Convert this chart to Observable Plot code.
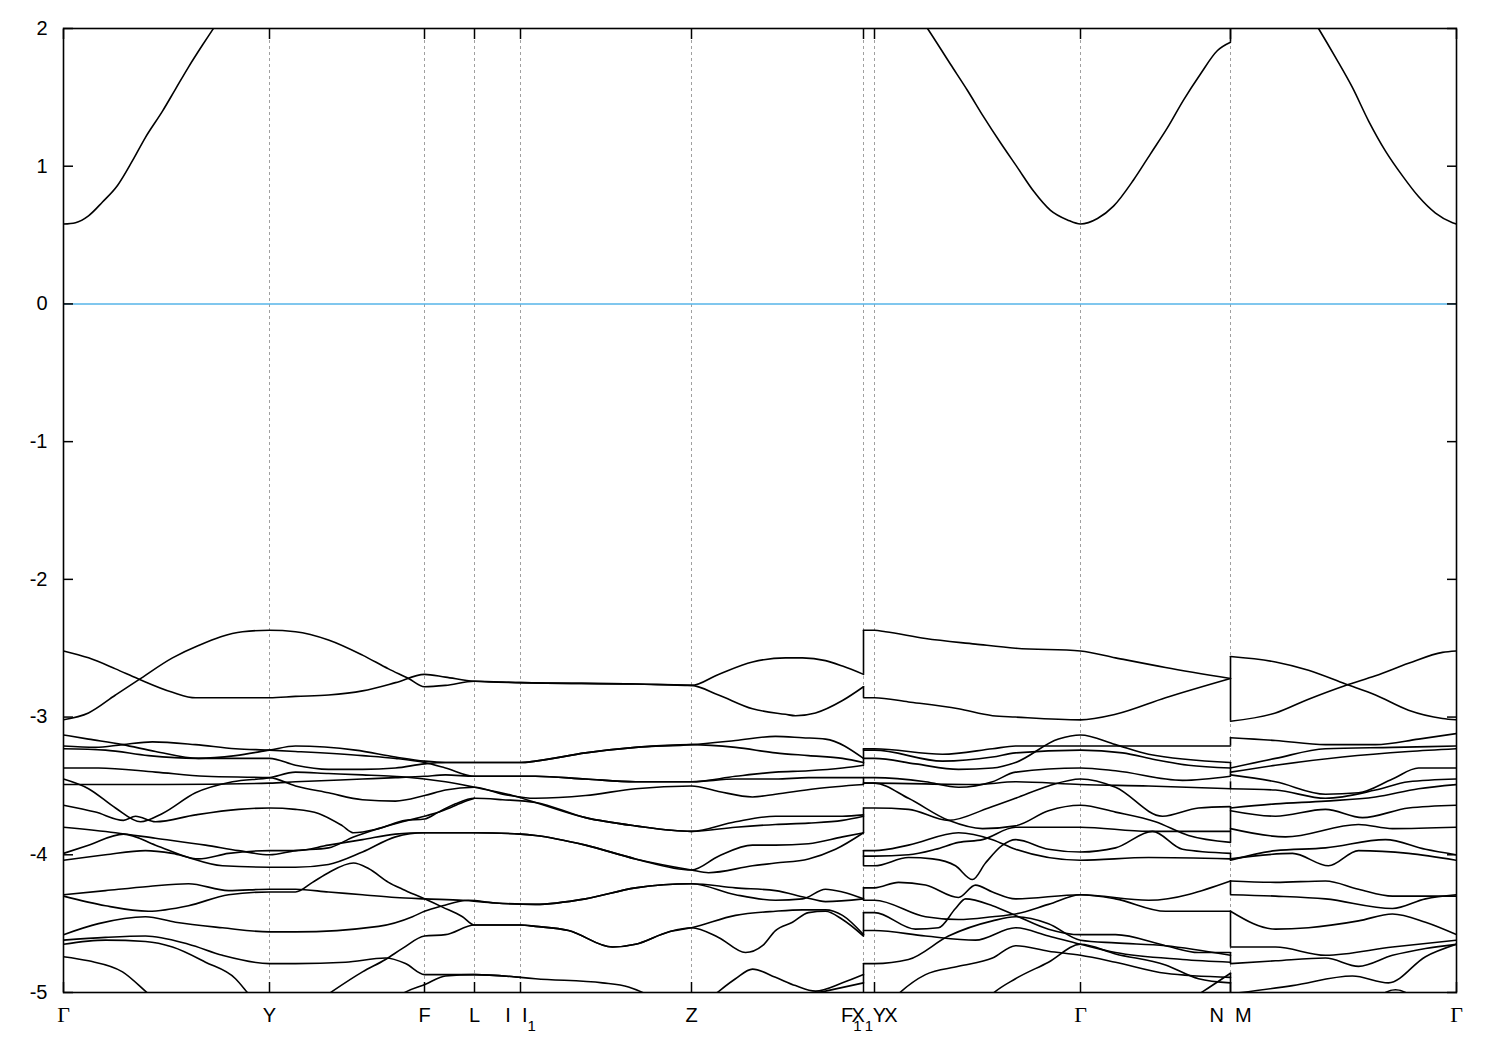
<!DOCTYPE html>
<html><head><meta charset="utf-8">
<script src="https://cdn.jsdelivr.net/npm/d3@7"></script>
<script src="https://cdn.jsdelivr.net/npm/@observablehq/plot@0.6"></script>
<style>body{margin:0;background:#fff;} #chart svg{display:block;}</style>
</head><body><div id="chart"></div>
<script>
// high-symmetry points along the k-path (arbitrary path-length units)
const kTicks  = [0, 2.06, 3.61, 4.11, 4.57, 6.28, 8.00, 8.11, 10.17, 11.67, 13.93];
const kLabels = ["Γ", "Y", "F", "L", "I\u00a0\u00a0I_1", "Z", "F_1\u00a0\u00a0Y", "X_1\u00a0\u00a0X", "Γ", "N\u00a0\u00a0M", "Γ"];
const yTicks  = [-5, -4, -3, -2, -1, 0, 1, 2];

// conduction band pieces [k, E]
const cbGammaY  = [[0,0.58],[0.12,0.59],[0.25,0.64],[0.39,0.74],[0.54,0.86],[0.69,1.04],[0.82,1.21],[0.99,1.40],[1.12,1.56],[1.25,1.72],[1.39,1.88],[1.49,1.99],[1.75,2.28],[2.06,2.50]];
const cbXGammaN = [[8.11,2.45],[8.40,2.25],[8.64,2.00],[8.87,1.74],[9.04,1.55],[9.20,1.36],[9.37,1.17],[9.54,0.99],[9.70,0.82],[9.87,0.68],[10.04,0.61],[10.17,0.58],[10.34,0.62],[10.50,0.71],[10.70,0.90],[10.87,1.09],[11.04,1.28],[11.20,1.48],[11.37,1.67],[11.54,1.84],[11.67,1.90]];
const cbMGamma  = [[11.67,2.85],[12.20,2.40],[12.55,2.00],[12.72,1.79],[12.89,1.57],[13.05,1.33],[13.22,1.11],[13.39,0.93],[13.55,0.78],[13.72,0.66],[13.89,0.59],[13.93,0.58]];

// valence pieces, path Γ → Y → F → L → I|I1 → Z → F1
const vaTop1 = [[0,-3.02],[0.25,-2.97],[0.52,-2.84],[0.75,-2.73],[1.09,-2.57],[1.35,-2.48],[1.79,-2.38],[2.06,-2.37],[2.32,-2.38],[2.65,-2.44],[2.99,-2.55],[3.25,-2.65],[3.45,-2.72],[3.61,-2.78],[3.82,-2.77],[4.11,-2.74],[4.57,-2.75],[5.72,-2.76],[6.28,-2.77],[6.55,-2.69],[6.89,-2.60],[7.22,-2.57],[7.39,-2.57],[7.62,-2.59],[7.79,-2.63],[8.00,-2.69]];
const vaTop2 = [[0,-2.52],[0.25,-2.57],[0.52,-2.65],[0.74,-2.72],[1.09,-2.82],[1.32,-2.86],[2.06,-2.86],[2.32,-2.85],[2.65,-2.84],[2.99,-2.81],[3.32,-2.75],[3.61,-2.69],[3.82,-2.71],[4.11,-2.74],[4.57,-2.75],[5.72,-2.76],[6.28,-2.77],[6.55,-2.84],[6.89,-2.94],[7.22,-2.98],[7.32,-2.99],[7.52,-2.97],[7.79,-2.88],[8.00,-2.78]];
const vaC = [[0,-3.13],[0.25,-3.16],[0.59,-3.20],[0.92,-3.25],[1.35,-3.30],[1.72,-3.28],[2.06,-3.24],[2.32,-3.21],[2.92,-3.24],[3.32,-3.29],[3.61,-3.32],[3.82,-3.33],[4.11,-3.33],[4.57,-3.33],[4.72,-3.32],[5.22,-3.26],[5.72,-3.22],[6.28,-3.20],[6.72,-3.17],[7.12,-3.14],[7.39,-3.15],[7.62,-3.16],[8.00,-3.30]];
const vaD = [[0,-3.21],[0.32,-3.22],[0.59,-3.20],[0.89,-3.18],[1.32,-3.20],[1.72,-3.23],[2.06,-3.24],[2.32,-3.25],[2.99,-3.28],[3.32,-3.30],[3.61,-3.33],[3.82,-3.37],[4.11,-3.43],[4.57,-3.43],[4.72,-3.43],[5.22,-3.45],[5.72,-3.47],[6.28,-3.47],[6.72,-3.43],[7.12,-3.40],[7.45,-3.39],[7.79,-3.37],[8.00,-3.35]];
const vaE = [[0,-3.23],[0.42,-3.24],[0.85,-3.28],[1.32,-3.30],[2.06,-3.30],[2.32,-3.35],[2.65,-3.38],[2.99,-3.38],[3.32,-3.37],[3.61,-3.34],[3.82,-3.33],[4.11,-3.33],[4.57,-3.33],[4.72,-3.32],[5.22,-3.26],[5.72,-3.22],[6.28,-3.20],[6.72,-3.22],[7.12,-3.26],[7.45,-3.28],[7.79,-3.30],[8.00,-3.33]];
const vaF = [[0,-3.37],[0.35,-3.37],[0.92,-3.40],[1.42,-3.43],[2.06,-3.44],[2.32,-3.50],[2.65,-3.55],[2.99,-3.60],[3.32,-3.61],[3.61,-3.57],[3.82,-3.53],[4.11,-3.51],[4.39,-3.56],[4.72,-3.59],[5.22,-3.57],[5.72,-3.52],[6.28,-3.50],[6.55,-3.54],[6.89,-3.58],[7.12,-3.56],[7.52,-3.52],[8.00,-3.49]];
const vaV = [[0,-3.45],[0.25,-3.52],[0.52,-3.66],[0.77,-3.76],[0.99,-3.70],[1.32,-3.55],[1.69,-3.47],[2.06,-3.44],[2.32,-3.40],[2.65,-3.41],[2.99,-3.42],[3.29,-3.43],[3.61,-3.45],[3.82,-3.47],[4.11,-3.51],[4.49,-3.57],[4.72,-3.62],[5.22,-3.73],[5.72,-3.79],[6.28,-3.83],[6.72,-3.76],[7.12,-3.72],[7.45,-3.72],[7.79,-3.72],[8.00,-3.71]];
const vaFlat = [[0,-3.49],[1.00,-3.49],[2.06,-3.48],[2.32,-3.47],[2.99,-3.45],[3.32,-3.44],[3.61,-3.43],[3.82,-3.42],[4.11,-3.43],[4.57,-3.43],[4.72,-3.43],[5.22,-3.45],[5.72,-3.47],[6.28,-3.47],[6.72,-3.45],[7.12,-3.45],[7.45,-3.44],[7.79,-3.44],[8.00,-3.44]];
const vaEta = [[0,-3.64],[0.32,-3.69],[0.60,-3.75],[0.72,-3.72],[0.92,-3.76],[1.32,-3.71],[1.75,-3.67],[2.06,-3.66],[2.32,-3.67],[2.55,-3.70],[2.79,-3.79],[2.90,-3.84],[3.15,-3.81],[3.42,-3.75],[3.61,-3.74],[3.75,-3.69],[3.92,-3.63],[4.11,-3.59],[4.39,-3.60],[4.72,-3.62],[5.22,-3.73],[5.72,-3.79],[6.28,-3.83],[6.72,-3.80],[7.12,-3.78],[7.45,-3.77],[7.79,-3.75],[8.00,-3.72]];
const vaJ = [[0,-3.80],[0.52,-3.84],[0.92,-3.88],[1.42,-3.93],[1.75,-3.97],[2.06,-4.00],[2.32,-3.97],[2.65,-3.95],[2.90,-3.87],[3.15,-3.81],[3.39,-3.76],[3.61,-3.72],[3.79,-3.68],[3.99,-3.62],[4.11,-3.59]];
const vaK = [[0,-3.99],[0.25,-3.93],[0.60,-3.85],[0.92,-3.93],[1.25,-4.02],[1.59,-4.08],[2.06,-4.09],[2.32,-4.09],[2.65,-4.07],[2.99,-3.98],[3.32,-3.87],[3.61,-3.84],[4.11,-3.84],[4.57,-3.85],[4.72,-3.86],[5.22,-3.93],[5.72,-4.03],[6.28,-4.11],[6.55,-4.01],[6.89,-3.93],[7.12,-3.93],[7.45,-3.92],[7.79,-3.87],[8.00,-3.84]];
const vaL = [[0,-4.04],[0.42,-4.00],[0.82,-3.97],[1.09,-3.99],[1.35,-4.03],[1.65,-3.99],[2.06,-3.97],[2.32,-3.97],[2.65,-3.93],[2.99,-3.89],[3.32,-3.85],[3.61,-3.84],[4.11,-3.84],[4.57,-3.85],[4.72,-3.86],[5.22,-3.93],[5.72,-4.03],[6.28,-4.11],[6.45,-4.13],[6.89,-4.08],[7.12,-4.06],[7.45,-4.03],[7.72,-3.96],[8.00,-3.84]];
const vaN = [[0,-4.29],[0.42,-4.26],[0.85,-4.23],[1.25,-4.21],[1.65,-4.26],[2.06,-4.25],[2.32,-4.25],[2.65,-4.27],[2.99,-4.29],[3.32,-4.31],[3.61,-4.32],[3.99,-4.33],[4.32,-4.35],[4.72,-4.36],[5.22,-4.32],[5.72,-4.24],[6.28,-4.21],[6.72,-4.24],[7.12,-4.26],[7.42,-4.31],[7.62,-4.34],[8.00,-4.32]];
const vaO = [[0,-4.30],[0.42,-4.37],[0.85,-4.41],[1.25,-4.37],[1.65,-4.29],[2.06,-4.27],[2.32,-4.27],[2.49,-4.20],[2.65,-4.13],[2.90,-4.06],[3.05,-4.10],[3.25,-4.20],[3.39,-4.25],[3.61,-4.32],[3.79,-4.38],[3.99,-4.45],[4.11,-4.51],[4.57,-4.51],[4.72,-4.52],[5.05,-4.55],[5.49,-4.67],[5.72,-4.65],[6.05,-4.56],[6.28,-4.53],[6.72,-4.44],[7.12,-4.41],[7.39,-4.40],[7.62,-4.40],[7.79,-4.44],[8.00,-4.58]];
const vaP = [[0,-4.58],[0.35,-4.50],[0.82,-4.45],[1.12,-4.49],[1.59,-4.53],[2.06,-4.56],[2.32,-4.56],[3.15,-4.52],[3.49,-4.45],[3.61,-4.41],[3.79,-4.37],[4.05,-4.33],[4.32,-4.35],[4.72,-4.36],[5.22,-4.32],[5.72,-4.24],[6.28,-4.21],[6.72,-4.29],[7.12,-4.33],[7.39,-4.32],[7.62,-4.25],[7.79,-4.27],[8.00,-4.32]];
const vaQ = [[0,-4.62],[0.42,-4.60],[0.82,-4.59],[1.25,-4.65],[1.59,-4.73],[2.06,-4.79],[2.32,-4.79],[2.82,-4.78],[3.22,-4.75],[3.42,-4.79],[3.61,-4.87],[4.11,-4.87],[4.57,-4.89],[4.72,-4.90],[5.39,-4.93],[5.65,-4.96],[5.82,-5.01],[5.92,-5.05]];
const vaR = [[0,-4.65],[0.42,-4.62],[0.82,-4.63],[1.09,-4.67],[1.42,-4.78],[1.72,-4.90],[1.85,-5.01],[1.92,-5.07]];
const vaS = [[0,-4.74],[0.25,-4.77],[0.59,-4.85],[0.85,-5.01],[0.95,-5.07]];
const vaB1 = [[2.49,-5.09],[2.65,-5.01],[2.99,-4.85],[3.22,-4.76],[3.39,-4.68],[3.61,-4.59],[3.82,-4.58],[4.11,-4.51],[4.57,-4.51],[4.72,-4.52],[5.05,-4.55],[5.49,-4.67],[5.72,-4.65],[6.05,-4.56],[6.28,-4.53],[6.55,-4.60],[6.82,-4.71],[6.99,-4.66],[7.12,-4.55],[7.29,-4.49],[7.45,-4.42],[7.62,-4.41],[7.79,-4.47],[8.00,-4.59]];
const vaB2 = [[3.29,-5.07],[3.39,-5.01],[3.62,-4.94],[3.82,-4.88],[4.11,-4.87],[4.57,-4.89]];
const vaI3 = [[6.45,-5.05],[6.52,-5.01],[6.72,-4.90],[6.89,-4.83],[7.12,-4.89],[7.32,-4.95],[7.52,-4.99],[7.79,-4.93],[8.00,-4.87]];
const vaI4 = [[7.30,-5.06],[7.42,-5.02],[7.62,-4.99],[8.00,-4.93]];

// valence pieces, path Y → X1|X → Γ → N
const vbT1 = [[8.00,-2.37],[8.11,-2.37],[8.22,-2.38],[8.62,-2.43],[9.12,-2.47],[9.52,-2.50],[10.17,-2.52],[10.52,-2.57],[11.02,-2.64],[11.67,-2.72]];
const vbT2 = [[8.00,-2.86],[8.11,-2.86],[8.45,-2.89],[8.95,-2.94],[9.29,-2.99],[9.52,-3.00],[10.17,-3.02],[10.52,-2.98],[11.02,-2.86],[11.67,-2.72]];
const vbU1 = [[8.00,-3.23],[8.11,-3.23],[8.79,-3.27],[9.29,-3.23],[9.52,-3.21],[10.17,-3.21],[11.67,-3.21]];
const vbU7 = [[8.00,-3.24],[8.11,-3.24],[8.79,-3.32],[9.29,-3.29],[9.52,-3.26],[10.17,-3.24],[10.59,-3.26],[10.92,-3.31],[11.25,-3.35],[11.67,-3.37]];
const vbU2 = [[8.00,-3.30],[8.11,-3.30],[8.52,-3.34],[8.95,-3.38],[9.29,-3.37],[9.52,-3.33],[9.95,-3.16],[10.17,-3.13],[10.52,-3.20],[10.85,-3.27],[11.67,-3.33]];
const vbU3 = [[8.00,-3.44],[8.11,-3.44],[8.62,-3.47],[8.95,-3.51],[9.29,-3.47],[9.52,-3.40],[10.17,-3.37],[10.52,-3.39],[11.19,-3.46],[11.67,-3.43]];
const vbU4 = [[8.00,-3.48],[8.11,-3.48],[9.12,-3.49],[9.52,-3.47],[10.17,-3.49],[10.85,-3.50],[11.67,-3.52]];
const vbA = [[8.00,-3.48],[8.11,-3.48],[8.45,-3.59],[8.85,-3.75],[9.19,-3.81],[9.52,-3.79],[9.85,-3.68],[10.17,-3.64],[10.52,-3.69],[10.92,-3.76],[11.25,-3.86],[11.67,-3.91]];
const vbB = [[8.00,-3.66],[8.11,-3.66],[8.45,-3.67],[8.85,-3.75],[9.25,-3.66],[9.52,-3.59],[9.85,-3.50],[10.17,-3.45],[10.52,-3.51],[10.99,-3.72],[11.35,-3.66],[11.67,-3.65]];
const vbD = [[8.00,-4.01],[8.11,-4.01],[8.45,-4.00],[8.72,-3.96],[8.95,-3.91],[9.19,-3.89],[9.52,-3.80],[10.17,-3.80],[10.85,-3.83],[11.67,-3.83]];
const vbC = [[8.00,-3.97],[8.11,-3.97],[8.45,-3.93],[8.95,-3.84],[9.29,-3.89],[9.52,-3.96],[10.17,-4.04],[10.85,-4.02],[11.67,-4.03]];
const vbE = [[8.00,-4.08],[8.11,-4.08],[8.45,-4.02],[8.69,-4.03],[8.92,-4.08],[9.09,-4.18],[9.22,-4.06],[9.39,-3.93],[9.52,-3.89],[9.85,-3.96],[10.17,-3.98],[10.52,-3.95],[10.89,-3.83],[11.19,-3.96],[11.67,-3.99]];
const vbW1 = [[8.00,-4.24],[8.11,-4.24],[8.35,-4.20],[8.62,-4.22],[8.95,-4.31],[9.12,-4.22],[9.29,-4.27],[9.52,-4.32],[10.17,-4.29],[10.85,-4.33],[11.67,-4.19]];
const vbW2 = [[8.00,-4.33],[8.11,-4.33],[8.62,-4.45],[8.95,-4.47],[9.29,-4.45],[9.52,-4.43],[9.85,-4.36],[10.17,-4.29],[10.52,-4.32],[11.02,-4.41],[11.67,-4.41]];
const vbW3 = [[8.00,-4.42],[8.11,-4.42],[8.52,-4.54],[8.75,-4.53],[8.92,-4.39],[9.02,-4.32],[9.29,-4.37],[9.52,-4.44],[9.85,-4.54],[10.17,-4.58],[10.52,-4.58],[11.02,-4.66],[11.35,-4.71],[11.67,-4.71]];
const vbW4 = [[8.00,-4.55],[8.11,-4.55],[8.62,-4.59],[9.12,-4.62],[9.52,-4.53],[9.85,-4.59],[10.17,-4.65],[10.52,-4.71],[11.19,-4.76],[11.67,-4.78]];
const vbW5 = [[8.00,-4.79],[8.11,-4.79],[8.45,-4.76],[8.85,-4.59],[9.29,-4.48],[9.52,-4.45],[9.85,-4.50],[10.17,-4.62],[10.52,-4.64],[11.02,-4.66],[11.67,-4.73]];
const vbW6 = [[8.28,-5.06],[8.35,-5.01],[8.62,-4.87],[8.95,-4.81],[9.29,-4.75],[9.52,-4.66],[9.85,-4.70],[10.17,-4.73],[10.52,-4.78],[11.02,-4.86],[11.67,-4.89]];
const vbW7 = [[9.22,-5.06],[9.29,-5.01],[9.52,-4.90],[9.85,-4.78],[10.17,-4.65],[10.52,-4.72],[11.02,-4.80],[11.35,-4.90],[11.67,-4.93]];
const vbW8 = [[11.25,-5.06],[11.40,-4.99],[11.67,-4.86]];

// valence pieces, path M → Γ
const vcM1 = [[11.67,-2.56],[12.12,-2.60],[12.45,-2.66],[12.82,-2.76],[13.12,-2.84],[13.45,-2.95],[13.79,-3.01],[13.93,-3.02]];
const vcM2 = [[11.67,-3.03],[12.12,-2.97],[12.45,-2.87],[12.82,-2.77],[13.12,-2.70],[13.45,-2.61],[13.79,-2.53],[13.93,-2.52]];
const vcM3 = [[11.67,-3.15],[12.12,-3.17],[12.62,-3.20],[13.12,-3.20],[13.55,-3.16],[13.93,-3.12]];
const vcM4 = [[11.67,-3.37],[12.12,-3.30],[12.62,-3.23],[13.29,-3.22],[13.93,-3.21]];
const vcM5 = [[11.67,-3.40],[12.12,-3.35],[12.79,-3.29],[13.45,-3.25],[13.93,-3.23]];
const vcM6 = [[11.67,-3.42],[12.12,-3.47],[12.62,-3.56],[12.95,-3.55],[13.29,-3.45],[13.55,-3.37],[13.93,-3.37]];
const vcM7 = [[11.67,-3.52],[12.12,-3.53],[12.62,-3.59],[13.12,-3.53],[13.45,-3.47],[13.93,-3.45]];
const vcM8 = [[11.67,-3.66],[12.12,-3.63],[12.62,-3.61],[13.12,-3.58],[13.55,-3.52],[13.93,-3.49]];
const vcM9 = [[11.67,-3.68],[12.12,-3.72],[12.62,-3.67],[12.99,-3.73],[13.45,-3.66],[13.93,-3.64]];
const vcM10 = [[11.67,-3.81],[12.22,-3.87],[12.95,-3.78],[13.29,-3.81],[13.93,-3.80]];
const vcM11 = [[11.67,-4.04],[12.12,-3.97],[12.62,-3.95],[13.22,-3.89],[13.62,-3.96],[13.93,-4.00]];
const vcM12 = [[11.67,-4.03],[12.29,-3.99],[12.65,-4.08],[12.95,-3.97],[13.45,-3.99],[13.93,-4.04]];
const vcM13 = [[11.67,-4.19],[12.12,-4.20],[12.62,-4.19],[12.95,-4.25],[13.29,-4.30],[13.93,-4.30]];
const vcM14 = [[11.67,-4.29],[12.12,-4.30],[12.62,-4.32],[13.29,-4.39],[13.62,-4.32],[13.93,-4.29]];
const vcM15 = [[11.67,-4.41],[12.12,-4.54],[12.45,-4.53],[12.95,-4.48],[13.29,-4.43],[13.62,-4.49],[13.93,-4.58]];
const vcM16 = [[11.67,-4.67],[12.12,-4.67],[12.62,-4.73],[13.29,-4.67],[13.93,-4.62]];
const vcM17 = [[11.67,-4.79],[12.12,-4.77],[12.62,-4.75],[12.95,-4.81],[13.29,-4.73],[13.62,-4.68],[13.93,-4.65]];
const vcM18 = [[11.67,-5.01],[12.29,-4.95],[12.89,-4.88],[13.25,-4.93],[13.62,-4.74],[13.93,-4.65]];
const vcM19 = [[13.15,-5.04],[13.22,-5.00],[13.32,-4.98],[13.42,-5.00],[13.49,-5.04]];

// vertical jumps at the path breaks F1|Y and N|M: [E_before, E_after]
const jumpsF1Y = [[-2.37,-2.69],[-2.78,-2.86],[-3.23,-3.35],[-3.44,-3.49],[-3.66,-3.84],[-3.97,-4.08],[-4.24,-4.33],[-4.42,-4.59],[-4.79,-4.93]];
const jumpsNM  = [[1.90,2.85],[-2.56,-3.03],[-3.15,-3.21],[-3.33,-3.43],[-3.47,-3.52],[-3.65,-3.91],[-3.99,-4.04],[-4.19,-4.29],[-4.41,-4.67],[-4.71,-4.79],[-4.86,-5.01]];

const pieces = {cbGammaY, cbXGammaN, cbMGamma,
  vaTop1, vaTop2, vaC, vaD, vaE, vaF, vaV, vaFlat, vaEta, vaJ, vaK, vaL, vaN, vaO, vaP, vaQ, vaR, vaS, vaB1, vaB2, vaI3, vaI4,
  vbT1, vbT2, vbU1, vbU7, vbU2, vbU3, vbU4, vbA, vbB, vbD, vbC, vbE, vbW1, vbW2, vbW3, vbW4, vbW5, vbW6, vbW7, vbW8,
  vcM1, vcM2, vcM3, vcM4, vcM5, vcM6, vcM7, vcM8, vcM9, vcM10, vcM11, vcM12, vcM13, vcM14, vcM15, vcM16, vcM17, vcM18, vcM19};

const rows = Object.entries(pieces).flatMap(([name, pts]) => pts.map(([k, E]) => ({name, k, E})));
const labelRows = kTicks.map((k, i) => ({k, label: kLabels[i]}));
const sans = "'Liberation Sans', Arial, Helvetica, sans-serif";
const serif = "'Liberation Serif', 'DejaVu Serif', 'Times New Roman', serif";
const noText = () => "";
const FS = 20;

const chart = Plot.plot({
  width: 1500, height: 1050,
  marginLeft: 63, marginRight: 44, marginTop: 28, marginBottom: 58,
  x: {domain: [0, 13.93], axis: null},
  y: {domain: [-5, 2], axis: null},
  style: {fontFamily: sans, fontSize: FS + "px", background: "#fff", color: "#000"},
  marks: [
    Plot.ruleX(kTicks.slice(1, -1), {stroke: "#a0a0a0", strokeWidth: 1, strokeDasharray: "3,3"}),
    Plot.ruleY([0], {stroke: "#56b4e9", strokeWidth: 1.5}),
    Plot.line(rows, {x: "k", y: "E", z: "name", curve: "monotone-x", stroke: "#000", strokeWidth: 1.6, clip: true}),
    Plot.ruleX(jumpsF1Y, {x: () => kTicks[6], y1: d => d[0], y2: d => d[1], stroke: "#000", strokeWidth: 1.6, clip: true}),
    Plot.ruleX(jumpsNM, {x: () => kTicks[9], y1: d => d[0], y2: d => d[1], stroke: "#000", strokeWidth: 1.6, clip: true}),
    Plot.frame({stroke: "#000", strokeWidth: 1.6}),
    Plot.axisY(yTicks, {anchor: "left", tickSize: -10, tickFormat: noText, label: null, strokeWidth: 1.5}),
    Plot.axisY(yTicks, {anchor: "right", tickSize: -10, tickFormat: noText, label: null, strokeWidth: 1.5}),
    Plot.axisY(yTicks, {anchor: "left", tickSize: 0, tickPadding: 16, tickFormat: d => String(d), label: null, fontSize: FS, fill: "#000"}),
    Plot.axisX(kTicks, {anchor: "bottom", tickSize: -10, tickFormat: noText, label: null, strokeWidth: 1.5}),
    Plot.axisX(kTicks, {anchor: "top", tickSize: -10, tickFormat: noText, label: null, strokeWidth: 1.5}),
    Plot.text(labelRows.filter(d => d.label !== "Γ"), {x: "k", text: "label", frameAnchor: "bottom", dy: 29, fontSize: FS, fill: "#000", fontFamily: sans}),
    Plot.text(labelRows.filter(d => d.label === "Γ"), {x: "k", text: "label", frameAnchor: "bottom", dy: 29, fontSize: FS + 2, fill: "#000", fontFamily: serif})
  ]
});

// render "_1" in the tick labels as a lowered subscript
const SVGNS = "http://www.w3.org/2000/svg";
chart.querySelectorAll("text").forEach(t => {
  const s = t.textContent;
  if (!s.includes("_1")) return;
  t.textContent = "";
  let lowered = false;
  for (const part of s.split(/(_1)/)) {
    if (!part) continue;
    const ts = document.createElementNS(SVGNS, "tspan");
    if (part === "_1") {
      ts.textContent = "1";
      ts.setAttribute("dy", "9");
      ts.setAttribute("font-size", String(FS - 5));
      lowered = true;
    } else {
      ts.textContent = part;
      if (lowered) { ts.setAttribute("dy", "-9"); lowered = false; }
    }
    t.appendChild(ts);
  }
});
document.getElementById("chart").appendChild(chart);
</script>
</body></html>
